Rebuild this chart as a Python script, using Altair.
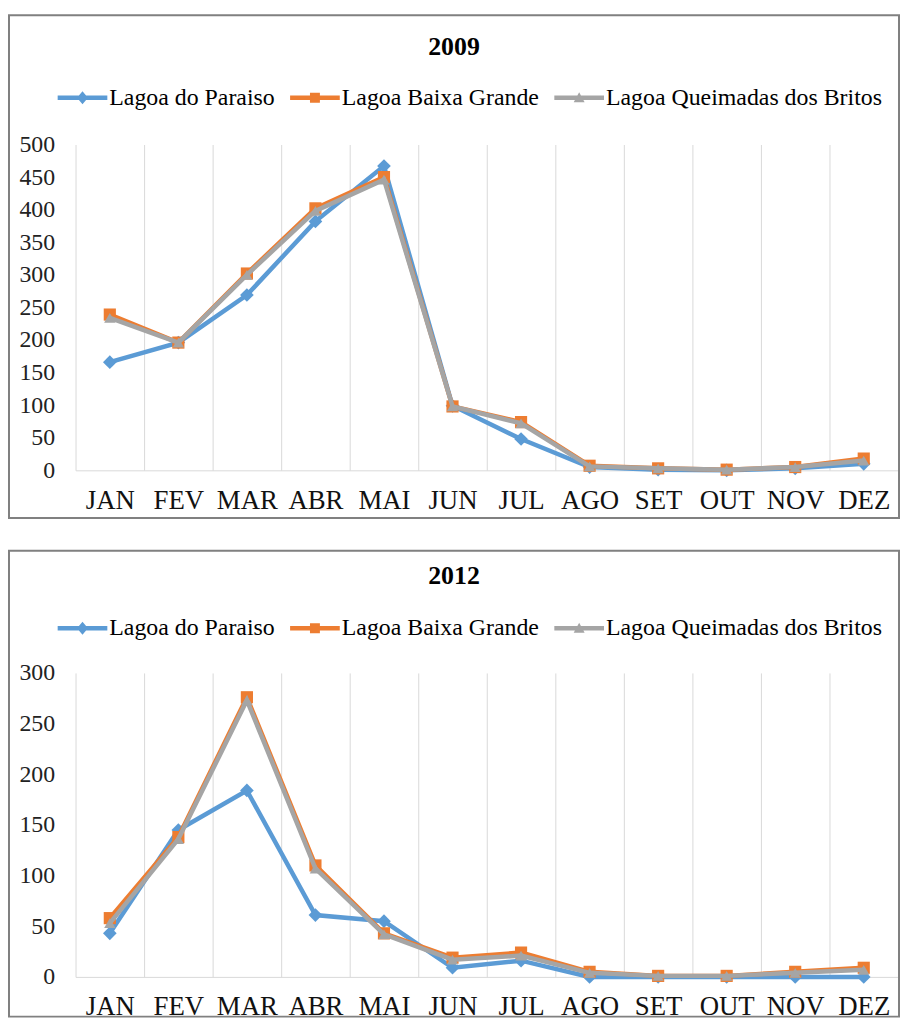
import altair as alt
import pandas as pd

# ---------------- data ----------------
months = ["JAN", "FEV", "MAR", "ABR", "MAI", "JUN", "JUL", "AGO", "SET", "OUT", "NOV", "DEZ"]
series_names = ["Lagoa do Paraiso", "Lagoa Baixa Grande", "Lagoa Queimadas dos Britos"]

paraiso_2009 = [166, 196, 269, 382, 467, 99, 48, 5, 1, 0, 3, 10]
baixa_2009 = [239, 196, 302, 402, 450, 98, 74, 7, 3, 1, 5, 18]
queimadas_2009 = [234, 196, 300, 398, 446, 98, 72, 6, 3, 1, 5, 15]

paraiso_2012 = [43, 145, 184, 61, 55, 9, 16, 0, 0, 0, 0, 0]
baixa_2012 = [58, 138, 276, 110, 43, 19, 24, 5, 1, 1, 5, 9]
queimadas_2012 = [53, 136, 273, 107, 42, 17, 21, 4, 1, 1, 4, 7]

ticks_2009 = [0, 50, 100, 150, 200, 250, 300, 350, 400, 450, 500]
ticks_2012 = [0, 50, 100, 150, 200, 250, 300]

# ---------------- style ----------------
series_colors = ["#5B9BD5", "#ED7D31", "#A5A5A5"]
point_shapes = ["diamond", "square", "triangle-up"]
point_sizes = [190, 150, 130]
# legend keys: a line segment with the series marker on it
legend_paths = [
    "M-1,-0.09L1,-0.09L1,0.09L-1,0.09Z M-0.22,0L0,-0.26L0.22,0L0,0.26Z",
    "M-1,-0.09L1,-0.09L1,0.09L-1,0.09Z M-0.2,-0.2L0.2,-0.2L0.2,0.2L-0.2,0.2Z",
    "M-1,-0.09L1,-0.09L1,0.09L-1,0.09Z M-0.22,0.18L0,-0.22L0.22,0.18Z",
]
SERIF = "Liberation Serif"
PLOT_W = 828


def long_table(values_by_series):
    rows = []
    for name, vals in zip(series_names, values_by_series):
        for m, v in zip(months, vals):
            rows.append({"month": m, "series": name, "value": v})
    return pd.DataFrame(rows)


def panel(title, values_by_series, ticks, height, frame_top, frame_bottom,
          title_offset, legend_y):
    df = long_table(values_by_series)
    x_enc = alt.X(
        "month:N",
        sort=months,
        scale=alt.Scale(type="band", paddingInner=0, paddingOuter=0),
        axis=alt.Axis(
            title=None, labelAngle=0, labelFont=SERIF, labelFontSize=27,
            labelColor="#111111", labelPadding=17, ticks=False, tickSize=0,
            grid=True, gridColor="#d9d9d9", gridWidth=1, tickBand="extent",
            domainColor="#d9d9d9", domainWidth=1,
        ),
    )
    y_enc = alt.Y(
        "value:Q",
        scale=alt.Scale(domain=[0, ticks[-1]], nice=False),
        axis=alt.Axis(
            title=None, values=ticks, grid=False, domain=False, ticks=False,
            tickSize=0, labelFont=SERIF, labelFontSize=24, labelColor="#222222",
            labelPadding=21,
        ),
    )

    frame = (
        alt.Chart(pd.DataFrame({"frame": [0]}))
        .mark_rect(fill="#ffffff", fillOpacity=0, stroke="#808080", strokeWidth=2)
        .encode(x=alt.value(-67), x2=alt.value(PLOT_W + 1),
                y=alt.value(frame_top), y2=alt.value(frame_bottom))
    )
    layers = [frame]
    base = alt.Chart(df)
    for name, colr, shp, sz in zip(series_names, series_colors, point_shapes, point_sizes):
        sub = base.transform_filter(alt.datum.series == name)
        layers.append(sub.mark_line(strokeWidth=4.5, color=colr).encode(x=x_enc, y=y_enc))
        layers.append(
            sub.mark_point(shape=shp, size=sz, filled=True, opacity=1, color=colr)
            .encode(x=x_enc, y=y_enc)
        )

    legend = alt.Legend(
        title=None, orient="none", legendX=-18, legendY=legend_y,
        direction="horizontal", labelFont=SERIF, labelFontSize=24,
        labelColor="#000000", labelLimit=600, symbolSize=2500, symbolOpacity=1,
        symbolStrokeWidth=0, labelOffset=2, columnPadding=15, padding=0,
    )
    key = base.mark_point(filled=True, opacity=0).encode(
        x=x_enc, y=y_enc,
        color=alt.Color("series:N",
                        scale=alt.Scale(domain=series_names, range=series_colors),
                        legend=legend),
        shape=alt.Shape("series:N",
                        scale=alt.Scale(domain=series_names, range=legend_paths),
                        legend=legend),
    )
    layers.append(key)

    return alt.layer(*layers).properties(
        width=PLOT_W,
        height=height,
        title=alt.TitleParams(
            text=title, font=SERIF, fontSize=26, fontWeight="bold",
            color="#000000", anchor="middle", frame="bounds", offset=title_offset,
        ),
    )


p2009 = panel("2009", [paraiso_2009, baixa_2009, queimadas_2009], ticks_2009,
              height=328, frame_top=-130, frame_bottom=376,
              title_offset=-46, legend_y=-72)
p2012 = panel("2012", [paraiso_2012, baixa_2012, queimadas_2012], ticks_2012,
              height=306, frame_top=-123, frame_bottom=346,
              title_offset=-39, legend_y=-70)

chart = (
    alt.vconcat(p2009, p2012, spacing=31)
    .resolve_scale(color="independent", shape="independent")
    .resolve_legend(color="independent", shape="independent")
    .properties(padding={"left": 0, "top": 3, "right": 0, "bottom": 0})
    .configure(font=SERIF)
    .configure_view(stroke=None)
    .configure_legend(labelFont=SERIF, labelFontSize=24, labelLimit=600)
)

chart.save("out.html", embed_options={"renderer": "svg", "actions": False})
